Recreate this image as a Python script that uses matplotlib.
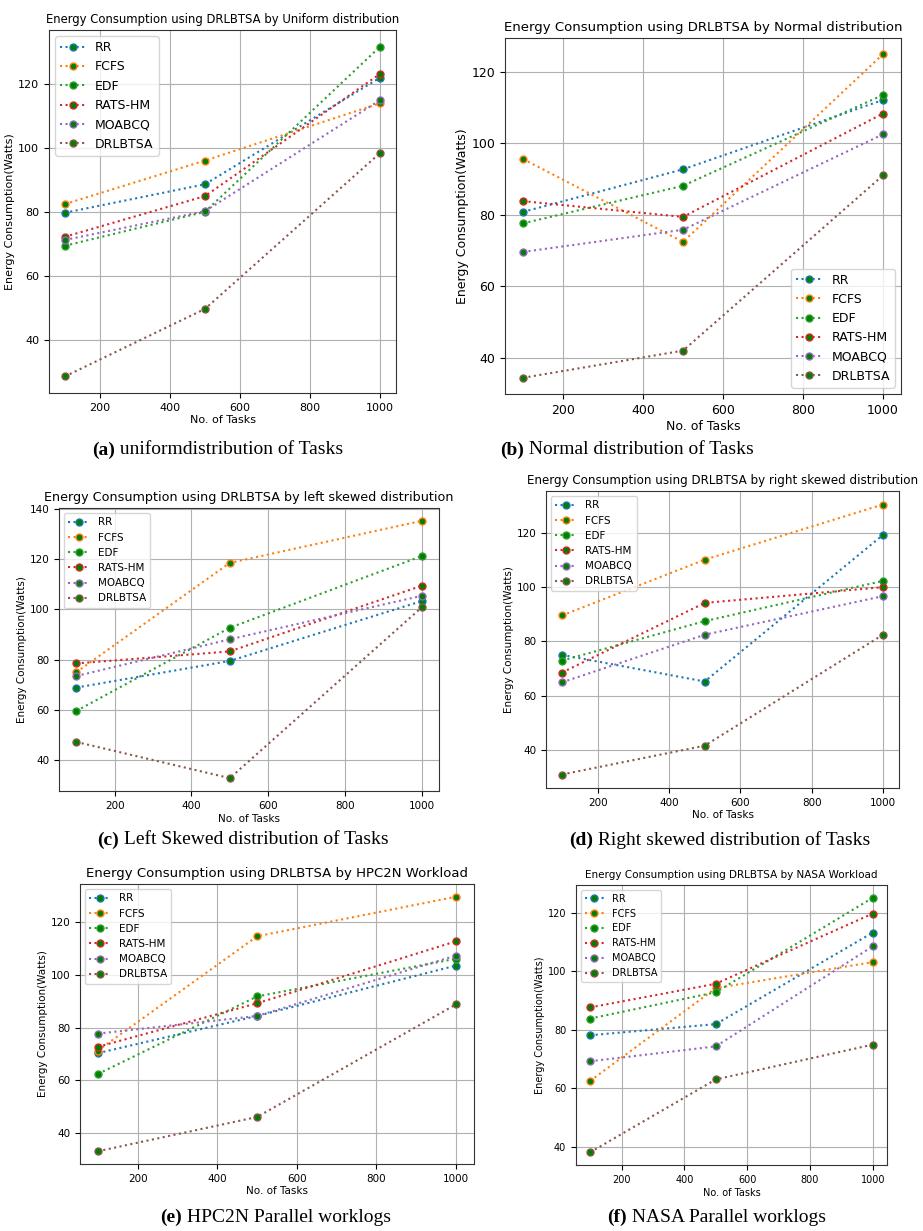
import matplotlib
matplotlib.use('Agg')
import matplotlib.pyplot as plt

W, H = 923, 1231

tasks = [100, 500, 1000]
algos = ['RR', 'FCFS', 'EDF', 'RATS-HM', 'MOABCQ', 'DRLBTSA']
colors = ['tab:blue', 'tab:orange', 'tab:green', 'tab:red', 'tab:purple', 'tab:brown']

# values per panel, rows follow algos order
uniform_vals = [[79.7, 88.6, 121.9], [82.4, 96.0, 113.9], [69.4, 80.0, 131.6],
                [72.2, 84.9, 123.1], [71.2, 80.2, 114.9], [28.6, 49.7, 98.4]]
normal_vals = [[80.8, 92.7, 112.1], [95.6, 72.4, 124.9], [77.6, 88.1, 113.5],
               [83.8, 79.4, 108.3], [69.6, 75.8, 102.5], [34.4, 42.0, 91.0]]
left_vals = [[68.9, 79.5, 103.3], [75.0, 118.5, 135.2], [59.6, 92.7, 121.2],
             [78.5, 83.3, 109.4], [73.5, 88.1, 105.4], [47.3, 32.9, 100.8]]
right_vals = [[75.0, 65.2, 119.1], [89.5, 110.0, 130.3], [72.9, 87.4, 102.2],
              [68.5, 94.1, 99.9], [64.9, 82.4, 96.6], [31.0, 41.6, 82.4]]
hpc_vals = [[70.3, 84.4, 103.5], [71.3, 114.6, 129.6], [62.4, 91.8, 106.1],
            [72.7, 89.2, 112.7], [77.7, 84.4, 107.3], [33.1, 46.1, 88.8]]
nasa_vals = [[78.1, 81.9, 113.2], [62.5, 94.2, 103.1], [83.8, 92.8, 125.1],
             [87.6, 95.7, 119.7], [69.2, 74.3, 108.5], [38.1, 63.0, 74.9]]

titles = ['Energy Consumption using DRLBTSA by Uniform distribution',
          'Energy Consumption using DRLBTSA by Normal distribution',
          'Energy Consumption using DRLBTSA by left skewed distribution',
          'Energy Consumption using DRLBTSA by right skewed distribution',
          'Energy Consumption using DRLBTSA by HPC2N Workload',
          'Energy Consumption using DRLBTSA by NASA Workload']
caption_tags = ['(a)', '(b)', '(c)', '(d)', '(e)', '(f)']
caption_texts = [' uniformdistribution of Tasks', ' Normal distribution of Tasks',
                 ' Left Skewed distribution of Tasks', ' Right skewed distribution of Tasks',
                 ' HPC2N Parallel worklogs', ' NASA Parallel worklogs']

# layout in pixels: left, right, top, bottom, title width, legend loc,
# tick/label size, legend size, caption x, caption y
panels = [
    (49, 396, 30, 393, 353, 'upper left', 8, 9, 92, 450),
    (505, 901, 38, 394, 395, 'lower right', 9, 9, 500, 450),
    (59, 439, 508, 791, 407, 'upper left', 7.5, 7.5, 97, 840),
    (546, 899, 491, 788, 387, 'upper left', 7.5, 7.5, 569, 840),
    (80, 474, 884, 1164, 380, 'upper left', 7.5, 7.5, 160, 1217),
    (576, 887, 885, 1165, 292, 'upper left', 7, 7, 607, 1217),
]
all_vals = [uniform_vals, normal_vals, left_vals, right_vals, hpc_vals, nasa_vals]

fig = plt.figure(figsize=(W / 100, H / 100), dpi=100)
renderer = fig.canvas.get_renderer()

for i, (l, r, t, b, tw, loc, fs, lfs, cx, cy) in enumerate(panels):
    ax = fig.add_axes([l / W, 1 - b / H, (r - l) / W, (b - t) / H])
    for name, col, vals in zip(algos, colors, all_vals[i]):
        ax.plot(tasks, vals, linestyle=':', color=col, marker='o', markersize=5,
                markerfacecolor='green', markeredgecolor=col, label=name)
    ax.grid(True, color='#b0b0b0', linewidth=0.8)
    ax.set_xticks([200, 400, 600, 800, 1000])
    ax.tick_params(labelsize=fs)
    ax.set_xlabel('No. of Tasks', fontsize=fs, labelpad=2)
    ax.set_ylabel('Energy Consumption(Watts)', fontsize=fs, labelpad=2)
    ttl = ax.set_title(titles[i], fontsize=10, pad=5)
    w = ttl.get_window_extent(renderer).width
    ttl.set_fontsize(10 * tw / w)
    ax.legend(loc=loc, fontsize=lfs)
    for s in ax.spines.values():
        s.set_color('#333333')

    tag = fig.text(cx / W, 1 - cy / H, caption_tags[i], fontsize=14,
                   fontweight='bold', family='Liberation Serif', va='center')
    ax.annotate(caption_texts[i], xy=(1, 0.5), xycoords=tag, va='center',
                fontsize=14, family='Liberation Serif', annotation_clip=False)

fig.savefig('out.png', dpi=100)
